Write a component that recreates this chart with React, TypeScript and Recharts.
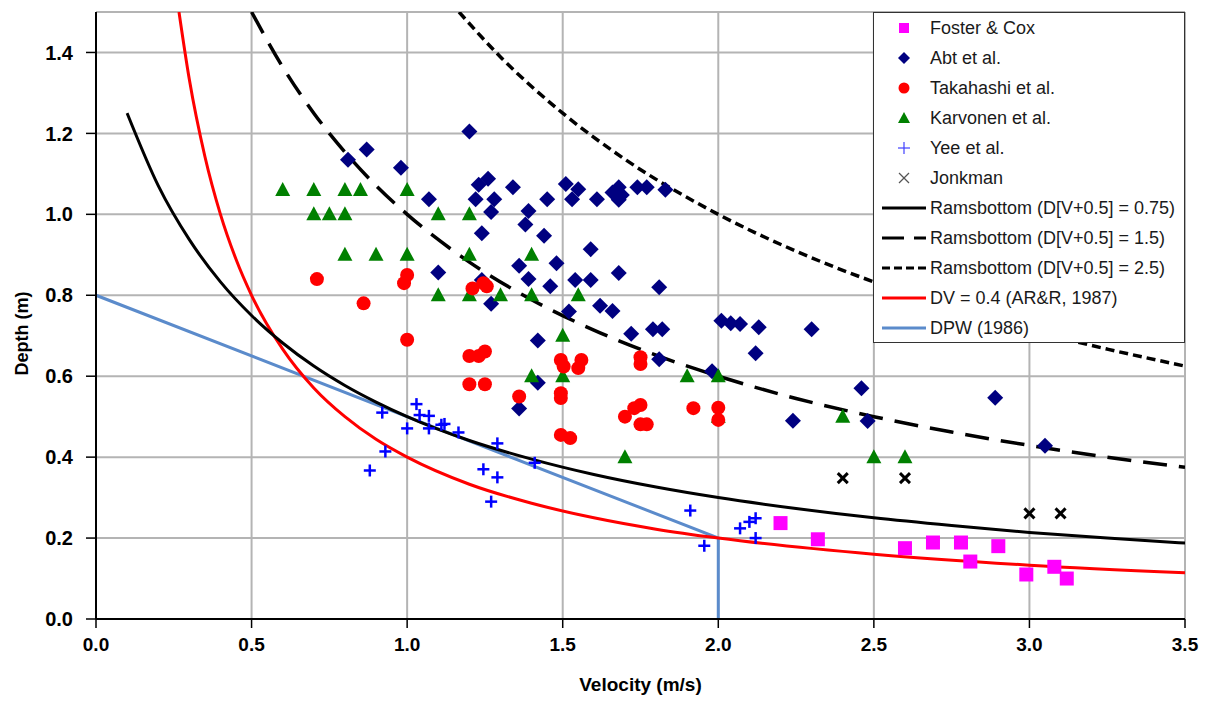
import React from 'react';
import { ComposedChart, Line, Scatter, XAxis, YAxis, CartesianGrid, Label } from 'recharts';

// ---------- data (velocity v in m/s, depth d in m) ----------
const xTicks = [0, 0.5, 1.0, 1.5, 2.0, 2.5, 3.0, 3.5];
const yTicks = [0, 0.2, 0.4, 0.6, 0.8, 1.0, 1.2, 1.4];

const fosterCox = [
  { v: 2.2, d: 0.237 }, { v: 2.32, d: 0.197 }, { v: 2.6, d: 0.175 }, { v: 2.69, d: 0.189 },
  { v: 2.78, d: 0.189 }, { v: 2.81, d: 0.142 }, { v: 2.9, d: 0.18 }, { v: 2.99, d: 0.11 },
  { v: 3.08, d: 0.129 }, { v: 3.12, d: 0.1 },
];

const abt = [
  { v: 0.81, d: 1.135 }, { v: 0.87, d: 1.16 }, { v: 0.98, d: 1.115 }, { v: 1.2, d: 1.205 },
  { v: 1.26, d: 1.088 }, { v: 1.23, d: 1.073 }, { v: 1.34, d: 1.067 }, { v: 1.07, d: 1.037 },
  { v: 1.22, d: 1.037 }, { v: 1.28, d: 1.037 }, { v: 1.27, d: 1.006 }, { v: 1.39, d: 1.008 },
  { v: 1.38, d: 0.975 }, { v: 1.24, d: 0.953 }, { v: 1.36, d: 0.873 }, { v: 1.1, d: 0.856 },
  { v: 1.39, d: 0.84 }, { v: 1.24, d: 0.838 }, { v: 1.27, d: 0.779 }, { v: 1.36, d: 0.52 },
  { v: 1.51, d: 1.075 }, { v: 1.55, d: 1.062 }, { v: 1.45, d: 1.037 }, { v: 1.53, d: 1.037 },
  { v: 1.61, d: 1.037 }, { v: 1.66, d: 1.054 }, { v: 1.68, d: 1.067 }, { v: 1.69, d: 1.048 },
  { v: 1.68, d: 1.036 }, { v: 1.74, d: 1.067 }, { v: 1.77, d: 1.067 }, { v: 1.83, d: 1.061 },
  { v: 1.44, d: 0.947 }, { v: 1.59, d: 0.914 }, { v: 1.48, d: 0.879 }, { v: 1.46, d: 0.822 },
  { v: 1.54, d: 0.838 }, { v: 1.59, d: 0.838 }, { v: 1.68, d: 0.855 }, { v: 1.81, d: 0.82 },
  { v: 1.52, d: 0.76 }, { v: 1.62, d: 0.774 }, { v: 1.66, d: 0.761 }, { v: 1.42, d: 0.688 },
  { v: 1.72, d: 0.705 }, { v: 1.79, d: 0.716 }, { v: 1.82, d: 0.716 }, { v: 2.01, d: 0.737 },
  { v: 2.04, d: 0.731 }, { v: 2.07, d: 0.729 }, { v: 2.13, d: 0.721 }, { v: 2.3, d: 0.716 },
  { v: 1.81, d: 0.642 }, { v: 2.12, d: 0.657 }, { v: 1.98, d: 0.612 }, { v: 1.42, d: 0.584 },
  { v: 2.24, d: 0.49 }, { v: 2.46, d: 0.57 }, { v: 2.89, d: 0.547 }, { v: 2.48, d: 0.489 },
  { v: 3.05, d: 0.428 },
];

const takahashi = [
  { v: 0.71, d: 0.84 }, { v: 0.86, d: 0.78 }, { v: 1.0, d: 0.85 }, { v: 0.99, d: 0.83 },
  { v: 1.0, d: 0.69 }, { v: 1.21, d: 0.817 }, { v: 1.245, d: 0.83 }, { v: 1.256, d: 0.822 },
  { v: 1.2, d: 0.65 }, { v: 1.23, d: 0.65 }, { v: 1.25, d: 0.661 }, { v: 1.2, d: 0.58 },
  { v: 1.25, d: 0.58 }, { v: 1.36, d: 0.55 }, { v: 1.494, d: 0.64 }, { v: 1.503, d: 0.624 },
  { v: 1.56, d: 0.64 }, { v: 1.55, d: 0.62 }, { v: 1.494, d: 0.558 }, { v: 1.494, d: 0.546 },
  { v: 1.494, d: 0.455 }, { v: 1.524, d: 0.447 }, { v: 1.75, d: 0.647 }, { v: 1.75, d: 0.63 },
  { v: 1.75, d: 0.529 }, { v: 1.73, d: 0.521 }, { v: 1.7, d: 0.5 }, { v: 1.75, d: 0.481 },
  { v: 1.77, d: 0.481 }, { v: 1.92, d: 0.521 }, { v: 2.0, d: 0.522 }, { v: 2.0, d: 0.492 },
];

const karvonen = [
  { v: 0.6, d: 1.06 }, { v: 0.7, d: 1.06 }, { v: 0.8, d: 1.06 }, { v: 0.85, d: 1.06 }, { v: 1.0, d: 1.06 },
  { v: 0.7, d: 1.0 }, { v: 0.75, d: 1.0 }, { v: 0.8, d: 1.0 }, { v: 1.1, d: 1.0 }, { v: 1.2, d: 1.0 },
  { v: 0.8, d: 0.9 }, { v: 0.9, d: 0.9 }, { v: 1.0, d: 0.9 }, { v: 1.2, d: 0.9 }, { v: 1.4, d: 0.9 },
  { v: 1.1, d: 0.8 }, { v: 1.2, d: 0.8 }, { v: 1.3, d: 0.8 }, { v: 1.4, d: 0.8 }, { v: 1.55, d: 0.8 },
  { v: 1.5, d: 0.7 }, { v: 1.4, d: 0.6 }, { v: 1.5, d: 0.6 }, { v: 1.9, d: 0.6 }, { v: 2.0, d: 0.6 },
  { v: 2.0, d: 0.5 }, { v: 2.4, d: 0.5 }, { v: 1.7, d: 0.4 }, { v: 2.5, d: 0.4 }, { v: 2.6, d: 0.4 },
];

const yee = [
  { v: 0.92, d: 0.51 }, { v: 1.03, d: 0.531 }, { v: 1.04, d: 0.504 }, { v: 1.07, d: 0.502 },
  { v: 1.0, d: 0.471 }, { v: 1.07, d: 0.471 }, { v: 1.11, d: 0.48 }, { v: 1.12, d: 0.482 },
  { v: 1.165, d: 0.461 }, { v: 1.29, d: 0.434 }, { v: 0.93, d: 0.414 }, { v: 0.88, d: 0.367 },
  { v: 1.245, d: 0.37 }, { v: 1.29, d: 0.35 }, { v: 1.27, d: 0.29 }, { v: 1.41, d: 0.386 },
  { v: 1.91, d: 0.268 }, { v: 1.955, d: 0.181 }, { v: 2.07, d: 0.224 }, { v: 2.1, d: 0.24 },
  { v: 2.12, d: 0.249 }, { v: 2.12, d: 0.2 },
];

const jonkman = [
  { v: 2.4, d: 0.348 }, { v: 2.6, d: 0.348 }, { v: 3.0, d: 0.261 }, { v: 3.1, d: 0.261 },
];

const rams075 = [
  { v: 0.1, d: 1.25 }, { v: 0.2, d: 1.071 }, { v: 0.3, d: 0.9375 }, { v: 0.4, d: 0.833 },
  { v: 0.5, d: 0.75 }, { v: 0.6, d: 0.682 }, { v: 0.7, d: 0.625 }, { v: 0.8, d: 0.577 },
  { v: 0.9, d: 0.536 }, { v: 1.0, d: 0.5 }, { v: 1.2, d: 0.441 }, { v: 1.4, d: 0.395 },
  { v: 1.6, d: 0.357 }, { v: 1.8, d: 0.326 }, { v: 2.0, d: 0.3 }, { v: 2.25, d: 0.273 },
  { v: 2.5, d: 0.25 }, { v: 2.75, d: 0.231 }, { v: 3.0, d: 0.214 }, { v: 3.25, d: 0.2 },
  { v: 3.5, d: 0.1875 },
];

const rams15 = [
  { v: 0.5, d: 1.5 }, { v: 0.6, d: 1.364 }, { v: 0.7, d: 1.25 }, { v: 0.8, d: 1.154 },
  { v: 0.9, d: 1.071 }, { v: 1.0, d: 1.0 }, { v: 1.2, d: 0.882 }, { v: 1.4, d: 0.789 },
  { v: 1.6, d: 0.714 }, { v: 1.8, d: 0.652 }, { v: 2.0, d: 0.6 }, { v: 2.25, d: 0.545 },
  { v: 2.5, d: 0.5 }, { v: 2.75, d: 0.462 }, { v: 3.0, d: 0.429 }, { v: 3.25, d: 0.4 },
  { v: 3.5, d: 0.375 },
];

const rams25 = [
  { v: 1.1667, d: 1.5 }, { v: 1.3, d: 1.389 }, { v: 1.5, d: 1.25 }, { v: 1.7, d: 1.136 },
  { v: 2.0, d: 1.0 }, { v: 2.25, d: 0.909 }, { v: 2.5, d: 0.833 }, { v: 2.75, d: 0.769 },
  { v: 3.0, d: 0.714 }, { v: 3.25, d: 0.667 }, { v: 3.5, d: 0.625 },
];

const dv04 = [
  { v: 0.2667, d: 1.5 }, { v: 0.3, d: 1.333 }, { v: 0.35, d: 1.143 }, { v: 0.4, d: 1.0 },
  { v: 0.45, d: 0.889 }, { v: 0.5, d: 0.8 }, { v: 0.6, d: 0.667 }, { v: 0.7, d: 0.571 },
  { v: 0.8, d: 0.5 }, { v: 0.9, d: 0.444 }, { v: 1.0, d: 0.4 }, { v: 1.2, d: 0.333 },
  { v: 1.4, d: 0.286 }, { v: 1.6, d: 0.25 }, { v: 1.8, d: 0.222 }, { v: 2.0, d: 0.2 },
  { v: 2.5, d: 0.16 }, { v: 3.0, d: 0.133 }, { v: 3.5, d: 0.114 },
];

const dpw = [
  { v: 0, d: 0.8 }, { v: 2.0, d: 0.2 }, { v: 2.0, d: 0 },
];

// ---------- styles ----------
const FONT = '"Liberation Sans", Arial, Helvetica, sans-serif';
const C_MAG = '#ff00ff';
const C_NAVY = '#000080';
const C_RED = '#ff0000';
const C_GREEN = '#008000';
const C_BLUE = '#0000ff';
const C_DPW = '#5b8bcb';

const SquareShape = (p: any) => <rect x={p.cx - 7} y={p.cy - 7} width={14} height={14} fill={C_MAG} />;
const DiamondShape = (p: any) => (
  <polygon points={`${p.cx},${p.cy - 8} ${p.cx + 8},${p.cy} ${p.cx},${p.cy + 8} ${p.cx - 8},${p.cy}`} fill={C_NAVY} />
);
const CircleShape = (p: any) => <circle cx={p.cx} cy={p.cy} r={7} fill={C_RED} />;
const TriangleShape = (p: any) => (
  <polygon points={`${p.cx},${p.cy - 8} ${p.cx + 7.5},${p.cy + 6} ${p.cx - 7.5},${p.cy + 6}`} fill={C_GREEN} />
);
const PlusShape = (p: any) => (
  <g stroke={C_BLUE} strokeWidth={2.5}>
    <line x1={p.cx - 6} y1={p.cy} x2={p.cx + 6} y2={p.cy} />
    <line x1={p.cx} y1={p.cy - 6} x2={p.cx} y2={p.cy + 6} />
  </g>
);
const XShape = (p: any) => (
  <g stroke="#000" strokeWidth={3}>
    <line x1={p.cx - 5} y1={p.cy - 5} x2={p.cx + 5} y2={p.cy + 5} />
    <line x1={p.cx - 5} y1={p.cy + 5} x2={p.cx + 5} y2={p.cy - 5} />
  </g>
);

const legendItems = [
  { name: 'Foster & Cox', kind: 'square' },
  { name: 'Abt et al.', kind: 'diamond' },
  { name: 'Takahashi et al.', kind: 'circle' },
  { name: 'Karvonen et al.', kind: 'triangle' },
  { name: 'Yee et al.', kind: 'plus' },
  { name: 'Jonkman', kind: 'x' },
  { name: 'Ramsbottom (D[V+0.5] = 0.75)', kind: 'solid' },
  { name: 'Ramsbottom (D[V+0.5] = 1.5)', kind: 'dash' },
  { name: 'Ramsbottom (D[V+0.5] = 2.5)', kind: 'dot' },
  { name: 'DV = 0.4 (AR&R, 1987)', kind: 'red' },
  { name: 'DPW (1986)', kind: 'dpw' },
];

const LegendIcon = ({ kind }: { kind: string }) => {
  const cx = 22, cy = 10;
  let el: any = null;
  switch (kind) {
    case 'square': el = <rect x={cx - 5} y={cy - 5} width={10} height={10} fill={C_MAG} />; break;
    case 'diamond': el = <polygon points={`${cx},${cy - 6} ${cx + 6},${cy} ${cx},${cy + 6} ${cx - 6},${cy}`} fill={C_NAVY} />; break;
    case 'circle': el = <circle cx={cx} cy={cy} r={5.5} fill={C_RED} />; break;
    case 'triangle': el = <polygon points={`${cx},${cy - 6} ${cx + 6},${cy + 5} ${cx - 6},${cy + 5}`} fill={C_GREEN} />; break;
    case 'plus': el = (<g stroke="#4040ff" strokeWidth={1.2}><line x1={cx - 6} y1={cy} x2={cx + 6} y2={cy} /><line x1={cx} y1={cy - 6} x2={cx} y2={cy + 6} /></g>); break;
    case 'x': el = (<g stroke="#555" strokeWidth={1.2}><line x1={cx - 5} y1={cy - 5} x2={cx + 5} y2={cy + 5} /><line x1={cx - 5} y1={cy + 5} x2={cx + 5} y2={cy - 5} /></g>); break;
    case 'solid': el = <line x1={0} y1={cy} x2={44} y2={cy} stroke="#000" strokeWidth={3} />; break;
    case 'dash': el = <line x1={0} y1={cy} x2={44} y2={cy} stroke="#000" strokeWidth={3} strokeDasharray="22 10" />; break;
    case 'dot': el = <line x1={0} y1={cy} x2={44} y2={cy} stroke="#000" strokeWidth={3} strokeDasharray="8 4" />; break;
    case 'red': el = <line x1={0} y1={cy} x2={44} y2={cy} stroke={C_RED} strokeWidth={3} />; break;
    case 'dpw': el = <line x1={0} y1={cy} x2={44} y2={cy} stroke={C_DPW} strokeWidth={3} />; break;
  }
  return <svg width={44} height={20} style={{ display: 'block' }}>{el}</svg>;
};

const YLabel = (props: any) => {
  const vb = props.viewBox || { x: 0, y: 0, width: 0, height: 0 };
  const x = vb.x + 14;
  const y = vb.y + vb.height / 2 + 18;
  return (
    <text x={x} y={y} transform={`rotate(-90 ${x} ${y})`} textAnchor="middle" dominantBaseline="central"
      fontFamily={FONT} fontWeight="bold" fontSize={18} fill="#000">Depth (m)</text>
  );
};

const XLabel = (props: any) => {
  const vb = props.viewBox || { x: 0, y: 0, width: 0, height: 0 };
  return (
    <text x={vb.x + vb.width / 2} y={vb.y + 65} textAnchor="middle" dominantBaseline="central"
      fontFamily={FONT} fontWeight="bold" fontSize={19} fill="#000">Velocity (m/s)</text>
  );
};

export default function App() {
  return (
    <div style={{ position: 'relative', width: 1191, height: 688, fontFamily: FONT }}>
      <ComposedChart width={1191} height={688} margin={{ top: 4, right: 14, bottom: 0, left: 0 }}>
        <CartesianGrid stroke="#b4b4b4" strokeWidth={2} />
        <XAxis type="number" dataKey="v" domain={[0, 3.5]} ticks={xTicks} allowDataOverflow
          tickFormatter={(t: number) => t.toFixed(1)} height={77} tickSize={9} tickMargin={10}
          axisLine={{ stroke: '#000', strokeWidth: 2 }} tickLine={{ stroke: '#000', strokeWidth: 1.5 }}
          tick={{ fontFamily: FONT, fontWeight: 'bold', fontSize: 19, fill: '#000' }}>
          <Label content={XLabel} />
        </XAxis>
        <YAxis type="number" domain={[0, 1.5]} ticks={yTicks} allowDataOverflow
          tickFormatter={(t: number) => t.toFixed(1)} width={88} tickSize={10} tickMargin={13}
          axisLine={{ stroke: '#000', strokeWidth: 2 }} tickLine={{ stroke: '#000', strokeWidth: 1.5 }}
          tick={{ fontFamily: FONT, fontWeight: 'bold', fontSize: 20, fill: '#000' }}>
          <Label content={YLabel} />
        </YAxis>

        <Line data={dpw} dataKey="d" type="linear" stroke={C_DPW} strokeWidth={3} dot={false} isAnimationActive={false} />
        <Line data={dv04} dataKey="d" type="monotone" stroke={C_RED} strokeWidth={3} dot={false} isAnimationActive={false} />
        <Line data={rams075} dataKey="d" type="monotone" stroke="#000" strokeWidth={3} dot={false} isAnimationActive={false} />
        <Line data={rams15} dataKey="d" type="monotone" stroke="#000" strokeWidth={3.5} strokeDasharray="24 12" dot={false} isAnimationActive={false} />
        <Line data={rams25} dataKey="d" type="monotone" stroke="#000" strokeWidth={3.5} strokeDasharray="9 5" dot={false} isAnimationActive={false} />

        <Scatter data={abt} dataKey="d" shape={DiamondShape} isAnimationActive={false} />
        <Scatter data={karvonen} dataKey="d" shape={TriangleShape} isAnimationActive={false} />
        <Scatter data={takahashi} dataKey="d" shape={CircleShape} isAnimationActive={false} />
        <Scatter data={yee} dataKey="d" shape={PlusShape} isAnimationActive={false} />
        <Scatter data={jonkman} dataKey="d" shape={XShape} isAnimationActive={false} />
        <Scatter data={fosterCox} dataKey="d" shape={SquareShape} isAnimationActive={false} />
      </ComposedChart>

      <div style={{
        position: 'absolute', left: 865, top: 4, width: 312, height: 331, background: '#fff',
        border: '1.5px solid #333', boxSizing: 'border-box', paddingTop: 0,
      }}>
        {legendItems.map((it) => (
          <div key={it.name} style={{ display: 'flex', alignItems: 'center', height: 30 }}>
            <div style={{ width: 44, marginLeft: 8, marginRight: 4 }}>
              <LegendIcon kind={it.kind} />
            </div>
            <span style={{ fontSize: 18, color: '#1a1a1a', whiteSpace: 'nowrap' }}>{it.name}</span>
          </div>
        ))}
      </div>
    </div>
  );
}
